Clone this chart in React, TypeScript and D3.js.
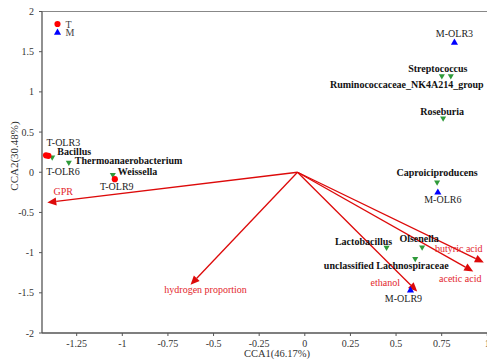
import React from 'react';
import * as d3 from 'd3';

// samples (sites)
const sampleNames = ['T-OLR3', 'T-OLR6', 'T-OLR9', 'M-OLR3', 'M-OLR6', 'M-OLR9'];
const sampleGroups = ['T', 'T', 'T', 'M', 'M', 'M'];
const sampleCCA1 = [-1.405, -1.418, -1.041, 0.82, 0.729, 0.579];
const sampleCCA2 = [0.204, 0.21, -0.086, 1.613, -0.252, -1.471];

// genera (species scores)
const speciesNames = [
  'Bacillus',
  'Thermoanaerobacterium',
  'Weissella',
  'Streptococcus',
  'Ruminococcaceae_NK4A214_group',
  'Roseburia',
  'Caproiciproducens',
  'Lactobacillus',
  'Olsenella',
  'unclassified Lachnospiraceae',
];
const speciesCCA1 = [-1.384, -1.293, -1.052, 0.751, 0.8, 0.758, 0.725, 0.448, 0.643, 0.605];
const speciesCCA2 = [0.188, 0.121, -0.032, 1.199, 1.199, 0.673, -0.123, -0.937, -0.932, -1.077];

// environmental factors (arrow tips)
const envNames = ['GPR', 'hydrogen proportion', 'ethanol', 'acetic acid', 'butyric acid'];
const envCCA1 = [-1.411, -0.626, 0.616, 0.923, 0.981];
const envCCA2 = [-0.377, -1.4, -1.484, -1.235, -1.123];
const envOrigin = [-0.04, 0];

const xTicks = [-1.25, -1, -0.75, -0.5, -0.25, 0, 0.25, 0.5, 0.75, 1];
const yTicks = [-2, -1.5, -1, -0.5, 0, 0.5, 1, 1.5, 2];

const groups = ['T', 'M'];

const W = 487;
const H = 362;
const left = 42;
const top = 11.5;
const bottom = 333;
const pxPerUnit = 182.5;

// label placement (px offsets from the mark)
const sampleLabelPos: Record<string, [number, number]> = {
  'T-OLR3': [15, -9.5],
  'T-OLR6': [17, 19.7],
  'T-OLR9': [2, 11],
  'M-OLR3': [0, -6],
  'M-OLR6': [5, 10],
  'M-OLR9': [-7, 12],
};
const speciesLabelPos: Record<string, [number, number, string]> = {
  Bacillus: [5, -2, 'start'],
  Thermoanaerobacterium: [6, 1.5, 'start'],
  Weissella: [5, 0, 'start'],
  Streptococcus: [-4, -3.5, 'middle'],
  Ruminococcaceae_NK4A214_group: [-44, 12.5, 'middle'],
  Roseburia: [-1, -3, 'middle'],
  Caproiciproducens: [0, -6, 'middle'],
  Lactobacillus: [-23, -3, 'middle'],
  Olsenella: [-3, -5, 'middle'],
  'unclassified Lachnospiraceae': [-29, 10.5, 'middle'],
};
const envLabelPos: Record<string, [number, number]> = {
  GPR: [16, -8],
  'hydrogen proportion': [15, 8.5],
  ethanol: [-32, -5.5],
  'acetic acid': [-13, 10],
  'butyric acid': [-25, -11],
};

const FONT = "'Liberation Serif', 'Times New Roman', Times, serif";
const RED = '#dd0a0a';
const RED_TEXT = '#e3262c';
const GREEN = '#2f9a3a';

export default function App() {
  const x = d3.scaleLinear().domain([-1.44, 1.13]).range([left, left + 2.57 * pxPerUnit]);
  const y = d3.scaleLinear().domain([-2, 2]).range([bottom, top]);

  const tri = d3.symbol().type(d3.symbolTriangle).size(22);
  const triDown = d3.symbol().type(d3.symbolTriangle).size(16);
  const circ = d3.symbol().type(d3.symbolCircle).size(30);

  const ox = x(envOrigin[0]);
  const oy = y(envOrigin[1]);

  return (
    <svg
      width={W}
      height={H}
      style={{ position: 'absolute', left: 0, top: 0, background: '#fff', fontFamily: FONT }}
    >
      {/* frame */}
      <line x1={left} x2={W} y1={top} y2={top} stroke="#888" strokeWidth={1.2} />
      <line x1={left} x2={left} y1={top} y2={bottom} stroke="#555" strokeWidth={1.3} />
      <line x1={left} x2={W} y1={bottom} y2={bottom} stroke="#555" strokeWidth={1.3} />

      {/* y axis */}
      {yTicks.map((t) => (
        <g key={'y' + t}>
          <line x1={left - 3} x2={left} y1={y(t)} y2={y(t)} stroke="#555" />
          <text x={left - 8} y={y(t) + 3.5} fontSize={10} textAnchor="end" fill="#333">
            {t}
          </text>
        </g>
      ))}
      {/* x axis */}
      {xTicks.map((t) => (
        <g key={'x' + t}>
          <line x1={x(t)} x2={x(t)} y1={bottom} y2={bottom + 3} stroke="#555" />
          <text x={x(t)} y={bottom + 14} fontSize={10} textAnchor="middle" fill="#333">
            {t}
          </text>
        </g>
      ))}
      <text x={277} y={357} fontSize={10.5} textAnchor="middle" fill="#333">
        CCA1(46.17%)
      </text>
      <text
        transform={`translate(18,156) rotate(-90)`}
        fontSize={11}
        textAnchor="middle"
        fill="#333"
      >
        CCA2(30.48%)
      </text>

      {/* environmental arrows */}
      {envNames.map((name, i) => {
        const tx = x(envCCA1[i]);
        const ty = y(envCCA2[i]);
        const ang = Math.atan2(ty - oy, tx - ox);
        const len = 9;
        const hw = 4;
        const bx = tx - len * Math.cos(ang);
        const by = ty - len * Math.sin(ang);
        const px = -Math.sin(ang) * hw;
        const py = Math.cos(ang) * hw;
        const [dx, dy] = envLabelPos[name];
        return (
          <g key={name}>
            <line x1={ox} y1={oy} x2={bx} y2={by} stroke={RED} strokeWidth={1.3} />
            <path d={`M${tx},${ty}L${bx + px},${by + py}L${bx - px},${by - py}Z`} fill={RED} />
            <text x={tx + dx} y={ty + dy} fontSize={10} textAnchor="middle" fill={RED_TEXT}>
              {name}
            </text>
          </g>
        );
      })}

      {/* species */}
      {speciesNames.map((name, i) => {
        const sx = x(speciesCCA1[i]);
        const sy = y(speciesCCA2[i]);
        const [dx, dy, anchor] = speciesLabelPos[name];
        return (
          <g key={name}>
            <path d={triDown() || ''} transform={`translate(${sx},${sy}) rotate(180)`} fill={GREEN} />
            <text
              x={sx + dx}
              y={sy + dy}
              fontSize={10}
              fontWeight="bold"
              textAnchor={anchor}
              fill="#111"
            >
              {name}
            </text>
          </g>
        );
      })}

      {/* samples */}
      {sampleNames.map((name, i) => {
        const sx = x(sampleCCA1[i]);
        const sy = y(sampleCCA2[i]);
        const [dx, dy] = sampleLabelPos[name];
        const isT = sampleGroups[i] === 'T';
        return (
          <g key={name}>
            <path
              d={(isT ? circ() : tri()) || ''}
              transform={`translate(${sx},${sy})`}
              fill={isT ? '#ff0000' : '#0000ff'}
            />
            <text x={sx + dx} y={sy + dy} fontSize={10} textAnchor="middle" fill="#222">
              {name}
            </text>
          </g>
        );
      })}

      {/* legend */}
      {groups.map((g, i) => (
        <g key={g} transform={`translate(57.5,${24 + i * 8.7})`}>
          <path d={(g === 'T' ? circ() : tri()) || ''} fill={g === 'T' ? '#ff0000' : '#0000ff'} />
          <text x={8} y={3.5} fontSize={10} fill="#444">
            {g}
          </text>
        </g>
      ))}
    </svg>
  );
}
